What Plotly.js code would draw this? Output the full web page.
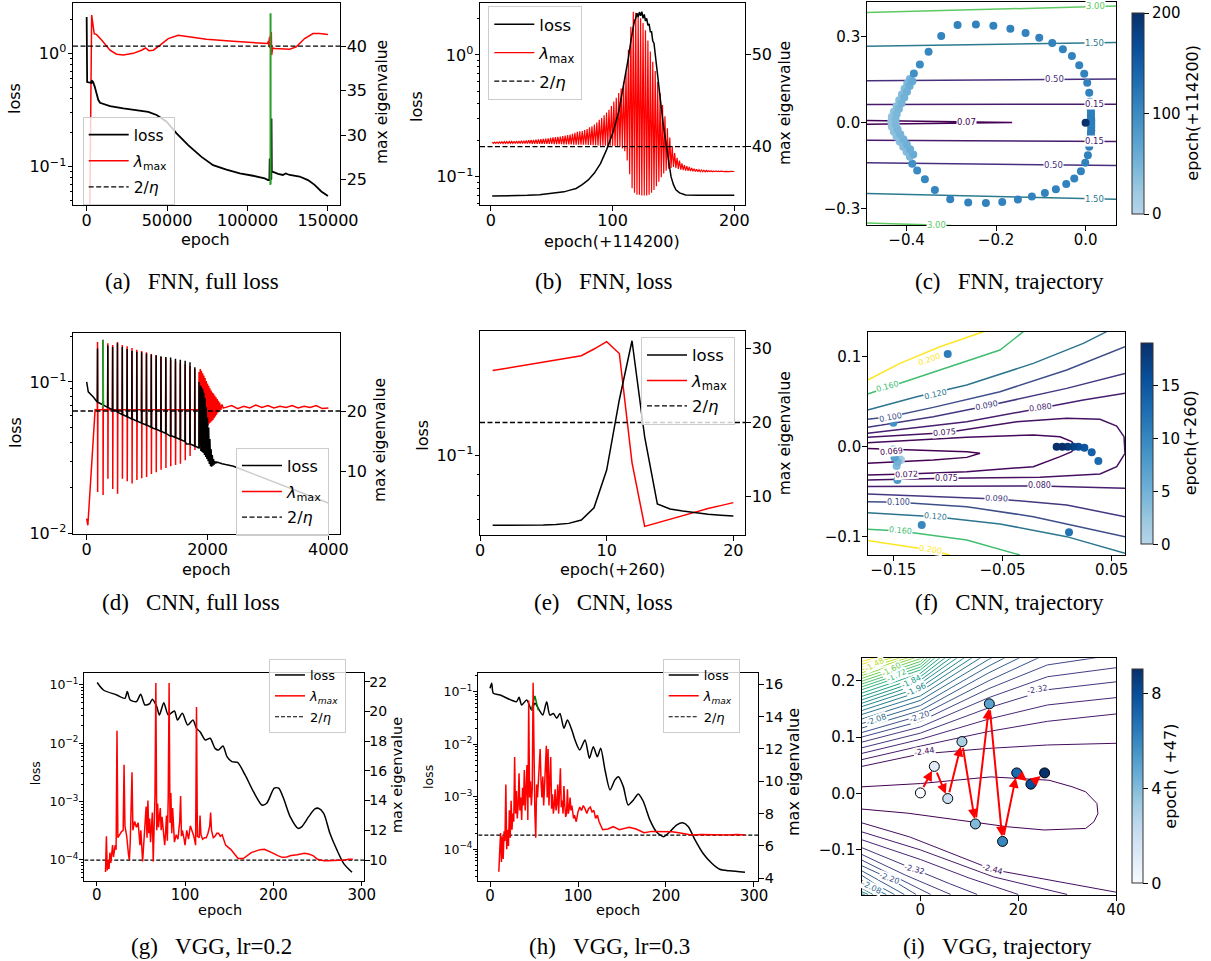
<!DOCTYPE html>
<html><head><meta charset="utf-8">
<script src="https://cdn.plot.ly/plotly-3.0.1.min.js"></script>
<style>body{margin:0;background:#fff}#chart{width:1211px;height:961px}</style>
</head><body><div id="chart"></div>
<script>
// ================= DATA =================
// (a) FNN, full loss
const a_epoch = [0,300,1500,3000,3100,4000,5000,6200,7200,8300,11000,14500,22800,30000,35000,38300,43500,49700,55900,63100,71400,78600,86900,95200,103400,110700,112800,113600,113800,114000,114800,114900,115100,115900,119000,122000,123700,126200,132400,137600,141700,145900,150000];
const a_loss = [2.1,0.56,0.555,0.55,0.58,0.56,0.51,0.45,0.39,0.367,0.355,0.343,0.327,0.317,0.31,0.305,0.286,0.25,0.197,0.155,0.122,0.103,0.094,0.0872,0.0831,0.0788,0.0762,0.076,0.118,0.076,0.078,0.267,0.09,0.09,0.0862,0.0844,0.087,0.0844,0.0818,0.076,0.069,0.0603,0.055];
const a_lam_epoch = [1500,2000,3100,4700,6200,9300,14500,18600,22800,29000,34100,36600,38700,41400,45500,50700,56900,62100,74500,91000,107600,111700,112500,113000,113300,113600,113900,114200,114500,114800,115000,115200,115400,115700,116900,126200,130300,135500,140700,144800,150000];
const a_lam = [22.0,22.5,43.5,41.4,41.3,40.7,39.55,39.1,39.0,39.2,39.55,39.8,39.5,39.55,40.1,40.86,41.24,41.12,40.79,40.56,40.41,40.37,40.3,40.6,40.1,41.0,39.8,41.2,39.2,41.6,39.0,41.0,39.5,39.8,39.74,39.66,39.93,40.86,41.42,41.42,41.31];
const a_offset = 114200;
const a_eta = 40;

// (b) FNN, loss (epoch + 114200)
const b_epoch = [1,10,20,30,40,50,60,65,70,75,80,85,90,95,100,105,110,113,115,116,117,118,119,120,121,122,123,124,125,126,127,128,129,130,131,132,133,134,135,136,138,140,142,144,146,148,150,152,155,160,170,180,200];
const b_loss = [0.0693,0.0694,0.0697,0.0702,0.071,0.0728,0.075,0.0775,0.080,0.086,0.094,0.107,0.128,0.166,0.227,0.34,0.62,0.95,1.3,1.55,1.7,1.9,2.0,2.2,2.05,2.25,2.1,2.27,2.0,2.15,1.9,2.0,1.75,1.8,1.55,1.55,1.3,1.25,1.03,0.9,0.6,0.37,0.25,0.18,0.13,0.1,0.086,0.078,0.0735,0.0708,0.0703,0.0702,0.0702];
const b_lam = [
40.5,40.35,40.5,40.35,40.5,40.36,40.52,40.36,40.53,40.35,
40.54,40.35,40.55,40.35,40.56,40.35,40.57,40.35,40.58,40.35,
40.6,40.35,40.62,40.34,40.63,40.34,40.65,40.34,40.67,40.33,
40.7,40.33,40.72,40.32,40.74,40.32,40.76,40.31,40.78,40.3,
40.8,40.3,40.83,40.3,40.86,40.3,40.9,40.29,40.95,40.29,
41.0,40.28,41.03,40.28,41.07,40.27,41.1,40.26,41.15,40.25,
41.2,40.25,41.25,40.24,41.3,40.23,41.4,40.22,41.5,40.2,
41.6,40.2,41.65,40.2,41.7,40.2,41.8,40.2,41.9,40.18,
42.1,40.17,42.2,40.16,42.4,40.15,42.6,40.13,42.9,40.1,
43.1,40.1,43.4,40.1,43.7,40.1,44.0,40.1,44.4,40.1,
44.9,40.05,45.3,40.0,45.8,39.95,46.3,39.8,47.0,39.5,
48.0,38.5,50.5,37.0,53.0,35.5,54.6,35.0,54.5,34.8,
54.2,34.8,53.9,34.7,53.4,34.7,52.6,34.7,51.5,34.8,
50.3,35.0,49.2,35.3,48.2,35.7,47.0,36.2,45.8,36.7,
44.5,37.1,43.3,37.4,42.0,37.6,41.0,37.7,40.0,37.8,
39.3,37.7,38.8,37.6,38.5,37.5,38.2,37.45,38.0,37.4,
37.9,37.38,37.8,37.35,37.7,37.33,37.6,37.3,37.55,37.28,
37.5,37.28,37.47,37.28,37.45,37.28,37.42,37.28,37.4,37.28,
37.38,37.29,37.37,37.29,37.36,37.29,37.35,37.29,37.34,37.3,
37.33,37.3,37.33,37.3,37.32,37.3,37.32,37.31,37.32,37.31];
const b_eta = 40;

// (c) FNN trajectory
const c_px = [-0.286,-0.245,-0.206,-0.168,-0.134,-0.1035,-0.0745,-0.0507,-0.0305,-0.0142,-0.003,0.0037,0.0082,0.0097,
 0.011,0.0115,0.012,0.012,0.012,0.0125,0.0127,0.0127,0.0127,0.0127,0.0127,0.012,0.012,0.0115,0.011,
 0.0082,0.0052,-0.0007,-0.0104,-0.0253,-0.0432,-0.0663,-0.0909,-0.12,-0.1512,-0.1862,-0.2227,-0.2622,-0.3024,-0.3367,-0.359,-0.3762,-0.3873,
 -0.3925,-0.4,-0.4074,-0.4149,-0.4223,-0.4283,-0.4328,-0.4343,-0.4328,-0.4283,-0.4223,-0.4164,-0.4104,-0.4045,-0.3985,-0.3925,
 -0.385,-0.392,-0.3995,-0.407,-0.414,-0.42,-0.424,-0.4245,-0.422,-0.417,-0.411,-0.405,-0.399,-0.393,-0.387,
 -0.3836,-0.3702,-0.3508,-0.3225, 0.0];
const c_py = [0.341,0.343,0.338,0.328,0.313,0.2965,0.278,0.256,0.2326,0.201,0.171,0.1395,0.1047,0.0733,
 0.056,0.047,0.038,0.03,0.021,0.015,0.0093,0.0,-0.008,-0.017,-0.0256,-0.034,-0.043,-0.052,-0.06,
 -0.0837,-0.1128,-0.1395,-0.1686,-0.194,-0.2128,-0.2314,-0.2442,-0.257,-0.2674,-0.2756,-0.279,-0.278,-0.2663,-0.2337,-0.1965,-0.1663,-0.143,
 -0.1186,-0.101,-0.0837,-0.0663,-0.0488,-0.0314,-0.014,0.0035,0.0209,0.0384,0.058,0.079,0.0988,0.1186,0.137,0.1523,
 -0.11,-0.092,-0.075,-0.057,-0.04,-0.022,-0.005,0.012,0.03,0.048,0.068,0.088,0.108,0.128,0.145,
 0.172,0.2035,0.2477,0.3023, 0.0];
const c_pc = [110,110,110,110,110,110,110,110,110,110,110,110,110,112,
 115,115,115,115,115,115,115,115,115,115,115,115,115,115,115,
 110,110,110,110,110,110,110,110,110,110,110,110,110,110,108,105,100,95,
 45,42,40,38,36,34,32,30,32,34,36,38,40,42,45,50,
 60,58,55,52,50,48,46,45,46,48,50,52,55,58,62,
 95,100,105,108, 200];
const c_cont_level = [3.0,1.5,0.5,0.15,0.07,0.15,0.5,1.5,3.0];
const c_cont_x = [[-0.489,0.068],[-0.489,0.068],[-0.489,0.068],[-0.489,0.068],[-0.489,-0.164,-0.489],[-0.489,0.068],[-0.489,0.068],[-0.489,0.068],[-0.489,-0.30]];
const c_cont_y = [[0.384,0.407],[0.267,0.280],[0.1465,0.153],[0.064,0.065],[0.008,0.0015,-0.005],[-0.0605,-0.065],[-0.1395,-0.149],[-0.2465,-0.266],[-0.349,-0.358]];
const c_lab_text = ['3.00','1.50','0.50','0.15','0.07','0.15','0.50','1.50','3.00'];
const c_lab_level = [3.0,1.5,0.5,0.15,0.07,0.15,0.5,1.5,3.0];
const c_lab_x = [0.022,0.019,-0.0685,0.021,-0.266,0.021,-0.072,0.021,-0.333];
const c_lab_y = [0.406,0.279,0.152,0.065,0.003,-0.064,-0.147,-0.264,-0.355];

// (d) CNN, full loss
const d_loss_ep  = [0,27,110,250,500,830,1100,1380,1650,2300,2430,2800,3200,3600,4000];
const d_loss_val = [0.1,0.086,0.0796,0.0713,0.064,0.056,0.0495,0.0440,0.039,0.0285,0.0278,0.0244,0.0211,0.0184,0.0159];
const d_spk_ep   = [180,270,350,430,510,590,670,750,830,910,990,1070,1150,1230,1310,1390,1470,1550,1630,1710,1790,1860];
const d_spk_base = [0.0735,0.0705,0.068,0.0655,0.063,0.061,0.059,0.057,0.0553,0.0535,0.052,0.0503,0.0488,0.0473,0.0458,0.0444,0.043,0.0417,0.0404,0.039,0.0378,0.0367];
const d_spk_top  = [0.166,0.19,0.174,0.17,0.18,0.17,0.165,0.16,0.158,0.157,0.154,0.152,0.15,0.148,0.146,0.145,0.142,0.14,0.138,0.135,0.125,0.1];
const d_red_hi   = [31.5,31.8,31.3,31.0,31.5,31.0,30.8,30.5,30.2,30.0,29.8,29.5,29.3,29.0,28.8,28.5,28.3,28.0,27.8,27.5,27.0,26.5];
const d_red_lo   = [6.5,6.0,8.7,7.0,6.2,8.7,8.3,7.9,8.5,8.8,9.0,9.5,9.8,10.2,10.5,10.8,11.0,11.2,11.8,12.5,13.5,15.0];
const d_red_mid  = [20.2,20.2,20.2,20.2,20.2,20.2,20.2,20.2,20.2,20.2,20.2,20.2,20.2,20.2,20.2,20.2,20.2,20.2,20.2,20.2,20.2,20.2];
const d_lam_pre_ep = [0,20,140];
const d_lam_pre    = [2.07,0.95,20.2];
const d_osc_ep   = [1880,1890,1900,1910,1920,1930,1940,1950,1960,1970,1980,1990,2000,2010,2020,2030,2040,2050,2060,2070,2080,2090,2100,2110,2120,2130,2140,2150,2160,2170,2180,2190,2200,2220,2240,2260];
const d_osc_loss = [0.095,0.035,0.093,0.0345,0.09,0.034,0.085,0.033,0.078,0.032,0.068,0.031,0.058,0.030,0.05,0.0288,0.042,0.0278,0.036,0.0276,0.033,0.028,0.031,0.0285,0.030,0.029,0.0298,0.0292,0.0296,0.0293,0.0294,0.0293,0.0293,0.0291,0.0289,0.0287];
const d_osc_lam  = [27.0,15.5,26.7,16.0,26.3,16.4,25.9,16.8,25.5,17.1,25.0,17.4,24.6,17.6,24.2,17.9,23.8,18.1,23.4,18.3,23.1,18.5,22.9,18.8,22.6,19.1,22.3,19.4,22.0,19.7,21.7,20.0,21.4,20.2,21.1,20.5];
const d_tail_ep  = [2300,2400,2500,2600,2700,2800,2900,3000,3100,3200,3300,3400,3500,3600,3700,3800,3900,4000];
const d_tail_lam = [20.6,20.9,20.4,20.8,20.5,21.0,20.6,20.9,20.5,20.8,20.6,20.9,20.5,20.8,20.6,20.9,20.4,20.5];
const d_offset = 260;
const d_eta = 20;

// (e) CNN, loss (epoch + 260)
const e_epoch = [1,2,3,4,5,6,7,8,9,10,11,12,13,14,15,16,17,18,19,20];
const e_loss  = [0.0677,0.0677,0.0677,0.0677,0.0678,0.068,0.0684,0.0697,0.0746,0.092,0.136,0.1888,0.1107,0.0762,0.0741,0.0733,0.0726,0.072,0.0716,0.0713];
const e_lam   = [27.0,27.3,27.6,27.9,28.2,28.5,28.8,29.0,29.9,30.9,29.3,14.6,6.0,6.5,7.0,7.5,8.0,8.4,8.8,9.2];
const e_eta = 20;

// (f) CNN trajectory
const f_px = [-0.1454,-0.143,-0.1445,-0.1479,-0.147,-0.146,-0.15,-0.149,-0.1463,-0.15,-0.124,-0.1002,0.0109,0.0378,0.0317,0.025,0.0195,0.0149,0.0097,0.0048,-0.0004];
const f_py = [-0.0141,-0.0148,-0.013,-0.0111,-0.0215,-0.017,-0.003,-0.012,-0.037,0.0267,-0.087,0.103,-0.0952,-0.0159,-0.0063,-0.0011,0,0,0,0,0];
const f_pc = [0,1,2,3,4,5,6,7,8,9,10,11,12,13,14,15,16,17,18,19,19];
const f_cont_level = [0.200,0.160,0.120,0.100,0.090,0.080,0.075,0.072,0.069,0.080,0.090,0.100,0.120,0.160,0.200];
const f_cont_x = [
 [-0.1735,-0.1439,-0.1073,-0.0676],
 [-0.1735,-0.1439,-0.0981,-0.0523,-0.0309],
 [-0.1735,-0.1286,-0.0828,-0.0218,0.024,0.0454],
 [-0.1735,-0.1531,-0.1134,-0.0523,0.0088,0.0622],
 [-0.1735,-0.1134,-0.0645,0.0088,0.0622],
 [-0.1735,-0.0828,-0.0157,0.024,0.0622],
 [-0.1735,-0.1027,-0.037,0.0088,0.0393,0.0546,0.0613,0.0622,0.0622,0.0546,0.0393,-0.0157,-0.1011,-0.1735],
 [-0.1735,-0.0828,-0.0218,0.0027,0.0134,0.0164,0.0134,0.0027,-0.0218,-0.0828,-0.1378,-0.1735],
 [-0.1735,-0.1134,-0.0828,-0.0706,-0.0828,-0.1134,-0.1735],
 [-0.1735,-0.0157,0.0622],
 [-0.1735,-0.0553,0.0088,0.0622],
 [-0.1735,-0.1454,-0.0828,-0.0218,0.0622],
 [-0.1735,-0.1118,-0.0523,0.0088,0.0622],
 [-0.1735,-0.1439,-0.0828,-0.034],
 [-0.1735,-0.1164,-0.0981]];
const f_cont_y = [
 [0.0741,0.0926,0.1111,0.1278],
 [0.0585,0.0704,0.0889,0.1074,0.1278],
 [0.0407,0.0556,0.0685,0.0926,0.1148,0.1278],
 [0.0304,0.0333,0.0437,0.0611,0.0852,0.1111],
 [0.0215,0.0333,0.0452,0.0648,0.0815],
 [0.0148,0.0278,0.0426,0.0519,0.0593],
 [0.0104,0.0156,0.0278,0.0315,0.0304,0.023,0.0111,-0.0019,-0.0074,-0.0222,-0.0304,-0.0341,-0.0352,-0.037],
 [0.0044,0.0104,0.013,0.0111,0.0056,0.0,-0.0056,-0.0111,-0.0222,-0.0278,-0.0304,-0.0315],
 [-0.0019,-0.0044,-0.0056,-0.0074,-0.0119,-0.0148,-0.0185],
 [-0.0444,-0.0437,-0.0463],
 [-0.0526,-0.0581,-0.0648,-0.0778],
 [-0.0611,-0.0619,-0.0667,-0.0778,-0.1],
 [-0.0733,-0.0778,-0.0859,-0.1,-0.1185],
 [-0.0919,-0.0937,-0.1037,-0.1204],
 [-0.1044,-0.1148,-0.1204]];
const f_lab_text  = ['0.200','0.160','0.120','0.100','0.090','0.080','0.075','0.069','0.072','0.075','0.080','0.090','0.100','0.120','0.160','0.200'];
const f_lab_level = [0.2,0.16,0.12,0.1,0.09,0.08,0.075,0.069,0.072,0.075,0.08,0.09,0.1,0.12,0.16,0.2];
const f_lab_x = [-0.117,-0.1552,-0.1118,-0.153,-0.0645,-0.015,-0.1027,-0.1515,-0.1378,-0.1011,-0.0157,-0.0553,-0.1454,-0.1118,-0.1439,-0.1164];
const f_lab_y = [0.097,0.0667,0.0585,0.0326,0.0463,0.0433,0.0156,-0.0056,-0.0304,-0.0352,-0.0437,-0.0574,-0.0619,-0.0778,-0.0937,-0.1148];
const f_lab_ang = [-20,-15,-13,-10,-12,-8,-5,-5,-3,0,0,3,0,5,5,8];

// (g) VGG lr=0.2
const g_epoch = [0.6,7.6,22.7,32,34.6,38,45,49.8,54.7,60,63,68,71,76,81,88,91.5,97,103,109,113,117,123,128.5,134,138,143,147.5,153,159.5,168,177.5,187,192.5,201,206,211.5,219,228,232,240,247,251,257,264,272,279.5,289];
const g_loss  = [0.11,0.082,0.0674,0.059,0.0769,0.0553,0.0518,0.069,0.0454,0.048,0.057,0.0425,0.0306,0.0497,0.0306,0.0358,0.025,0.0327,0.0206,0.025,0.018,0.0158,0.0114,0.0122,0.0082,0.0077,0.009,0.0059,0.00485,0.0047,0.00287,0.00148,0.000877,0.00094,0.0017,0.0017,0.00114,0.000553,0.000349,0.00037,0.000553,0.00075,0.00077,0.00063,0.000288,0.000148,0.0000877,0.0000616];
const g_lam_epoch = [10,11,12,13,14,15,16,18,19,20,21,22,23,24,26,28,30,31,32,34,36,37,38,40,41,43,45,47,49,50,52,54,56,57,58,59,60,61,62,63,64,65,66,67,68,69,70,72,73,74,76,77,78,79,80,81,82,83,84,85,86,87,88,90,92,94,95,96,97,99,100,102,104,106,108,110,112,113,114,116,117,118,120,122,124,126,128,129,130,132,134,136,138,140,142,144,146,148,152,156,160,166,170,175,180,185,190,195,200,205,210,215,220,227,235,240,245,250,257,262,268,275,281,285,290];
const g_lam = [9.2,11.6,9.3,10.0,9.4,10.5,9.8,11.0,10.2,10.6,11.0,10.7,18.7,11.5,11.7,11.9,12.0,16.4,12.3,11.6,10.4,10.0,11.2,15.9,12.0,12.6,12.2,12.5,11.0,12.0,9.9,12.0,13.6,11.5,14.0,11.8,12.8,11.2,12.0,13.2,9.9,12.5,14.3,21.9,12.0,13.8,12.2,13.5,12.0,12.9,11.5,11.0,11.8,13.0,11.3,14.2,21.9,12.5,14.5,11.8,13.5,12.2,11.2,11.7,11.4,12.6,14.3,11.6,12.0,11.4,11.0,12.0,11.4,12.3,12.0,11.6,11.0,20.3,11.6,11.5,13.0,11.7,11.4,11.5,11.5,11.8,12.3,13.2,12.0,11.5,11.6,11.8,11.8,11.6,11.7,11.3,11.0,10.9,10.7,10.4,10.1,10.1,10.3,10.5,10.6,10.7,10.72,10.6,10.45,10.3,10.18,10.2,10.3,10.35,10.45,10.4,10.3,10.05,9.95,9.95,9.95,9.97,10.0,10.05,10.05];
const g_eta = 10;

// (h) VGG lr=0.3
const h_epoch = [0,1.9,3.8,11.4,30,33,36,41.7,47.3,51,57,60,64.4,68,72,75.8,79.5,84,88,93,96.6,102,108,113,117.4,122,125.8,130.7,136.4,142,146,151.5,157,163,168.5,174,181.8,189,197,202.6,212,219,225.4,233,242,252,261,272.7,289.8];
const h_loss  = [0.116,0.145,0.093,0.0865,0.0645,0.0782,0.0558,0.0695,0.0449,0.06,0.0417,0.036,0.0645,0.036,0.0384,0.0312,0.0384,0.0201,0.0289,0.0186,0.012,0.00777,0.012,0.0054,0.009,0.0058,0.0084,0.00323,0.00135,0.0021,0.0024,0.00156,0.0007,0.00087,0.00113,0.00083,0.00036,0.000217,0.000174,0.000202,0.00029,0.00032,0.00027,0.000151,0.0000843,0.0000543,0.0000418,0.0000389,0.0000366];
const h_green_epoch = [47,49,51,53,55];
const h_green_loss  = [0.045,0.062,0.083,0.06,0.044];
const h_lam_first_epoch = 10;
const h_lam_a = [4.4,6.1,6.8,5.0,6.6,5.2,6.9,6.3,9.8,5.8,
 7.0,6.0,8.2,6.5,8.8,7.0,8.0,7.5,11.5,8.0,
 9.4,7.7,8.5,10.5,8.2,9.0,7.6,9.6,8.5,10.7,
 8.2,9.5,11.0,7.6,15.0,9.0,10.0,8.5,9.5,16.1,
 9.5,8.0,6.5,9.8,9.0,10.0,11.0,12.0,10.0,9.0,
 10.3,8.5,9.7,11.5,12.2,9.0,12.0,8.5,10.5,11.5,
 8.3,9.2,8.0,8.5,9.5,8.2,8.6,9.8,8.0,9.2,
 10.8,8.4,8.8,8.0,9.7,8.5,7.8,8.0,9.5,8.0,
 8.3,9.0,8.2,8.5,8.0,7.7];
const h_lam_b_epoch = [96,98,100,102,104,106,108,110,112,114,116,118,120,122,124,126,128,134,140,147,153,158,166,175,184,192,200,207,218,229,240,250,260,270,280,290];
const h_lam_b = [7.9,7.5,8.1,8.4,8.2,8.5,8.3,8.0,8.3,8.4,8.1,8.2,7.7,7.9,7.5,7.2,7.0,7.05,7.19,7.0,7.1,7.15,7.05,6.82,6.9,6.88,6.9,6.88,6.78,6.68,6.7,6.68,6.7,6.68,6.7,6.68];
const h_eta = 6.67;

// (i) VGG trajectory
const i_px = [0,2.85,5.6,8.5,11.25,14.1,16.8,19.7,22.6,25.4];
const i_py = [0.001,0.048,-0.009,0.092,-0.054,0.159,-0.085,0.0365,0.0165,0.0365];
const i_pc = [0,1,2,3,4,5,6,7,8,9];
const i_closed_x = [-12,0,14.4,26.3,31,33.8,36.1,36.3,35.5,33.8,25.3,17.8,7.7,-2.5,-12];
const i_closed_y = [0.0118,0.0176,0.0294,0.0235,0.012,0.003,-0.0177,-0.0355,-0.05,-0.062,-0.0647,-0.059,-0.047,-0.035,-0.0276];
const i_closed_level = -2.48;
const i_up_level = [-2.44,-2.40,-2.36,-2.32,-2.28,-2.24,-2.20,-2.16,-2.12,-2.08,-2.04,-2.00,-1.96,-1.92,-1.88,-1.84,-1.80,-1.76,-1.72,-1.68,-1.64,-1.60,-1.56,-1.52,-1.48,-1.44,-1.40,-1.36];
const i_up_x = [-12,0,14,26,40];
const i_up_y = [
 [0.048,0.070,0.080,0.086,0.089],
 [0.060,0.084,0.110,0.128,0.141],
 [0.071,0.096,0.132,0.157,0.170],
 [0.081,0.107,0.152,0.184,0.198],
 [0.091,0.118,0.170,0.207,0.223],
 [0.100,0.128,0.186,0.228,0.246],
 [0.108,0.138,0.200,0.248,0.27],
 [0.116,0.147,0.214,0.265,0.29],
 [0.124,0.156,0.226,0.28,0.31],
 [0.132,0.165,0.238,0.29,0.32],
 [0.140,0.173,0.25,0.30,0.33],
 [0.147,0.181,0.26,0.31,0.34],
 [0.154,0.188,0.27,0.32,0.35],
 [0.160,0.195,0.28,0.33,0.36],
 [0.166,0.201,0.29,0.34,0.37],
 [0.172,0.207,0.30,0.35,0.38],
 [0.178,0.213,0.31,0.36,0.39],
 [0.184,0.219,0.32,0.37,0.40],
 [0.189,0.224,0.33,0.38,0.41],
 [0.194,0.229,0.34,0.39,0.42],
 [0.199,0.234,0.35,0.40,0.43],
 [0.204,0.239,0.36,0.41,0.44],
 [0.209,0.244,0.37,0.42,0.45],
 [0.214,0.248,0.38,0.43,0.46],
 [0.219,0.252,0.39,0.44,0.47],
 [0.224,0.256,0.40,0.45,0.48],
 [0.229,0.260,0.41,0.46,0.49],
 [0.234,0.264,0.42,0.47,0.50]];
const i_low_level = [-2.44,-2.40,-2.36,-2.32,-2.28,-2.24,-2.20,-2.16,-2.12,-2.08,-2.04,-2.00,-1.96,-1.92];
const i_low_x = [[-12,-2.2,14.8,40],[-12,0,15,30],[-12,0,10,20],[-12,-1.2,6,11.6],[-12,-3,6.2],[-12,-5,2.1],[-12,-6.25,-0.9],[-12,-7.5,-3.3],[-12,-9,-5.3],[-12,-9.97,-7.0],[-12,-8.4],[-12,-9.7],[-12,-10.7],[-12,-11.4]];
const i_low_y = [[-0.052,-0.077,-0.135,-0.175],[-0.068,-0.100,-0.148,-0.179],[-0.082,-0.117,-0.150,-0.179],[-0.096,-0.135,-0.160,-0.179],[-0.108,-0.145,-0.179],[-0.118,-0.148,-0.179],[-0.128,-0.151,-0.179],[-0.137,-0.158,-0.179],[-0.145,-0.162,-0.179],[-0.153,-0.167,-0.179],[-0.161,-0.179],[-0.168,-0.179],[-0.174,-0.179],[-0.178,-0.179]];
const i_lab_text  = ['-2.32','-2.20','-2.08','-1.96','-1.84','-1.72','-1.60','-1.48','-2.44','-2.44','-2.32','-2.20','-2.08'];
const i_lab_level = [-2.32,-2.20,-2.08,-1.96,-1.84,-1.72,-1.60,-1.48,-2.44,-2.44,-2.32,-2.20,-2.08];
const i_lab_x = [23.9,-0.14,-8.95,-0.8,-1.8,-4.9,-5.9,-9.3,0.87,14.8,-1.16,-6.25,-9.97];
const i_lab_y = [0.184,0.137,0.131,0.184,0.198,0.21,0.22,0.229,0.0738,-0.135,-0.135,-0.151,-0.167];
const i_lab_ang = [-10,-20,-20,-25,-25,-25,-28,-28,-8,15,15,20,25];

// ================= HELPERS =================
const W = 1211, H = 961;
const FONT = 'DejaVu Sans';
const SERIF = 'Liberation Serif';
const hx = x => x / W;
const vy = y => 1 - y / H;
const VIR = ['#440154','#482475','#414487','#355f8d','#2a788e','#21918c','#22a884','#44bf70','#7ad151','#bddf26','#fde725'];
function hex2(c){return [parseInt(c.slice(1,3),16),parseInt(c.slice(3,5),16),parseInt(c.slice(5,7),16)];}
function viridis(t){t=Math.max(0,Math.min(1,t));const s=t*10;const i=Math.min(9,Math.floor(s));const f=s-i;const a=hex2(VIR[i]),b=hex2(VIR[i+1]);return 'rgb('+a.map((v,k)=>Math.round(v+(b[k]-v)*f)).join(',')+')';}
const BLUES = [[0,'#f7fbff'],[0.125,'#deebf7'],[0.25,'#c6dbef'],[0.375,'#9ecae1'],[0.5,'#6baed6'],[0.625,'#4292c6'],[0.75,'#2171b5'],[0.875,'#08519c'],[1,'#08306b']];
const BLUES_T = [[0,'#b6d4e9'],[0.107,'#9ecae1'],[0.286,'#6baed6'],[0.464,'#4292c6'],[0.643,'#2171b5'],[0.821,'#08519c'],[1,'#08306b']];
function minorLog(lo, hi){const v=[];for(let e=-6;e<=1;e++){for(let m=2;m<=9;m++){const x=m*Math.pow(10,e);if(x>lo&&x<hi)v.push(x);}}return v;}
const sup = s => '10<sup>' + s + '</sup>';

const traces = [];
const ann = [];
function T(text, x, y, size, opt){
  opt = opt || {};
  ann.push({text:text, x:hx(x), y:vy(y), xref:'paper', yref:'paper', showarrow:false,
    font:{family:opt.family||FONT, size:size, color:'#000'}, xanchor:'center', yanchor:'middle',
    textangle:opt.angle||0});
}
const LAMN = '<i>λ</i><sub>max</sub>';
const LAMI = '<i>λ<sub>max</sub></i>';
const ETAN = '2/<i>η</i>';

// ================= AXES =================
const base = {showline:true, linecolor:'#000', linewidth:1, ticks:'outside', ticklen:4.5, tickwidth:1, tickcolor:'#000',
  showgrid:false, zeroline:false, fixedrange:true, tickfont:{family:FONT, size:16, color:'#000'}};
function X(dom, range, anchor, vals, text, size, extra){
  return Object.assign({}, base, {domain:[hx(dom[0]),hx(dom[1])], range:range, anchor:anchor, mirror:true, ticklabelstandoff:-4,
    tickmode:'array', tickvals:vals, ticktext:text, tickfont:{family:FONT,size:size||16,color:'#000'}}, extra||{});
}
function Y(dom, range, anchor, vals, text, size, extra){
  return Object.assign({}, base, {domain:[vy(dom[1]),vy(dom[0])], range:range, anchor:anchor, mirror:true, ticklabelstandoff:-2,
    tickmode:'array', tickvals:vals, ticktext:text, tickfont:{family:FONT,size:size||16,color:'#000'}}, extra||{});
}
function LOG(range, vals, text, size, extra){
  return Object.assign({}, base, {type:'log', range:range, tickmode:'array', tickvals:vals, ticktext:text, ticklabelstandoff:-2,
    tickfont:{family:FONT,size:size||16,color:'#000'},
    minor:{tickmode:'array', tickvals:minorLog(Math.pow(10,range[0]),Math.pow(10,range[1])), ticks:'outside', ticklen:2.5, tickcolor:'#000', tickwidth:1}}, extra||{});
}

const R = {
  a:{x:[-8500,157500]}, b:{x:[-9,208.8]}, d:{x:[-226,4193]}, e:{x:[0,20.92]}, g:{x:[-14,302.6]}, h:{x:[-13.3,304.9]}
};

const layout = {
  width:W, height:H, margin:{l:0,r:0,t:0,b:0}, paper_bgcolor:'#fff', plot_bgcolor:'rgba(0,0,0,0)', showlegend:true,
  font:{family:FONT, color:'#000'},
  xaxis: X([73,340], R.a.x, 'y', [0,50000,100000,150000], ['0','50000','100000','150000']),
  yaxis: Y([3.3,205], [22.13,44.83], 'x', [25,30,35,40], ['25','30','35','40'], 16, {side:'right'}),
  yaxis10: LOG([-1.339,0.444], [0.1,1], [sup('−1'),sup('0')], 16, {overlaying:'y', side:'left', anchor:'x', showline:false}),
  xaxis2: X([480,745], R.b.x, 'y2', [0,100,200], ['0','100','200']),
  yaxis2: Y([3,205], [33.68,55.56], 'x2', [40,50], ['40','50'], 16, {side:'right'}),
  yaxis11: LOG([-1.233,0.427], [0.1,1], [sup('−1'),sup('0')], 16, {overlaying:'y2', side:'left', anchor:'x2', showline:false}),
  xaxis3: X([866.7,1116], [-0.489,0.068], 'y3', [-0.4,-0.2,0], ['−0.4','−0.2','0.0'], 15),
  yaxis3: Y([2,225], [-0.356,0.421], 'x3', [-0.3,0,0.3], ['−0.3','0.0','0.3'], 15),
  xaxis4: X([73,340], R.d.x, 'y4', [0,2000,4000], ['0','2000','4000']),
  yaxis4: Y([333.3,534.3], [-0.55,32.95], 'x4', [10,20], ['10','20'], 16, {side:'right'}),
  yaxis12: LOG([-2.005,-0.679], [0.01,0.1], [sup('−2'),sup('−1')], 16, {overlaying:'y4', side:'left', anchor:'x4', showline:false}),
  xaxis5: X([480,745], R.e.x, 'y5', [0,10,20], ['0','10','20']),
  yaxis5: Y([331,535], [4.84,32.33], 'x5', [10,20,30], ['10','20','30'], 16, {side:'right'}),
  yaxis13: LOG([-1.193,-0.7005], [0.1], [sup('−1')], 16, {overlaying:'y5', side:'left', anchor:'x5', showline:false}),
  xaxis6: X([867.7,1125], [-0.1735,0.0622], 'y6', [-0.15,-0.05,0.05], ['−0.15','−0.05','0.05'], 15),
  yaxis6: Y([331.7,555], [-0.1204,0.1278], 'x6', [-0.1,0,0.1], ['−0.1','0.0','0.1'], 15),
  xaxis7: X([84.3,364], R.g.x, 'y7', [0,100,200,300], ['0','100','200','300'], 15),
  yaxis7: Object.assign(LOG([-4.355,-0.8], [1e-4,1e-3,1e-2,1e-1], [sup('−4'),sup('−3'),sup('−2'),sup('−1')], 12.5),
           {domain:[vy(880.7),vy(673.3)], anchor:'x7', mirror:true, side:'left'}),
  yaxis14: Y([673.3,880.7], [8.61,22.56], 'x7', [10,12,14,16,18,20,22], ['10','12','14','16','18','20','22'], 14, {overlaying:'y7', side:'right', mirror:false, ticklabelstandoff:-3}),
  xaxis8: X([478.3,758.3], R.h.x, 'y8', [0,100,200,300], ['0','100','200','300'], 15),
  yaxis8: Object.assign(LOG([-4.603,-0.65], [1e-4,1e-3,1e-2,1e-1], [sup('−4'),sup('−3'),sup('−2'),sup('−1')], 12.5),
           {domain:[vy(881),vy(673.3)], anchor:'x8', mirror:true, side:'left'}),
  yaxis15: Y([673.3,881], [3.83,16.68], 'x8', [4,6,8,10,12,14,16], ['4','6','8','10','12','14','16'], 14.5, {overlaying:'y8', side:'right', mirror:false}),
  xaxis9: X([861.7,1116], [-12,40], 'y9', [0,20,40], ['0','20','40'], 15),
  yaxis9: Y([658.3,895], [-0.18,0.2397], 'x9', [-0.1,0,0.1,0.2], ['−0.1','0.0','0.1','0.2'], 15),
};
['yaxis10','yaxis11','yaxis12','yaxis13','yaxis14','yaxis15'].forEach(k=>{ delete layout[k].domain; });

function legendCfg(x, y, size, gap, iw){
  return {x:hx(x), y:vy(y), xanchor:'left', yanchor:'top', bgcolor:'rgba(255,255,255,0.8)', bordercolor:'#cccccc', borderwidth:1,
    font:{family:FONT, size:size, color:'#000'}, tracegroupgap:gap, itemwidth:iw||40, traceorder:'grouped'};
}
layout.legend  = legendCfg(82.7,117,15.5,3);
layout.legend2 = legendCfg(488.3,6,16.5,4);
layout.legend3 = legendCfg(236,447.7,16,2);
layout.legend4 = legendCfg(641,336.7,16.5,1);
layout.legend5 = legendCfg(269,659,13,1,30);
layout.legend6 = legendCfg(662.7,659,13,1,30);

function line(x, y, xa, ya, color, width, extra){
  return Object.assign({type:'scatter', mode:'lines', x:x, y:y, xaxis:xa, yaxis:ya, line:{color:color, width:width}, hoverinfo:'skip', showlegend:false}, extra||{});
}
const leg = (name, lg, rank) => ({name:name, showlegend:true, legend:lg, legendrank:rank, legendgroup:lg+'_'+rank});

// ================= (a) =================
traces.push(line(a_lam_epoch, a_lam, 'x', 'y', '#ff0000', 1.5, leg(LAMN,'legend',2)));
traces.push(line(R.a.x, [a_eta,a_eta], 'x', 'y', '#000', 1.3, Object.assign(leg(ETAN,'legend',3), {line:{color:'#000',width:1.3,dash:'5px,2.5px'}})));
traces.push(line(a_epoch, a_loss, 'x', 'y10', '#000', 1.8, leg('loss','legend',1)));
traces.push(line(b_epoch.map(e=>a_offset+e), b_loss, 'x', 'y10', '#2ca02c', 2));

// ================= (b) =================
const b_lam_epoch = b_lam.map((_,i)=>i+1);
traces.push(line(b_lam_epoch, b_lam, 'x2', 'y2', '#ff0000', 1.2, leg(LAMN,'legend2',2)));
traces.push(line(R.b.x, [b_eta,b_eta], 'x2', 'y2', '#000', 1.3, Object.assign(leg(ETAN,'legend2',3), {line:{color:'#000',width:1.3,dash:'5px,2.5px'}})));
traces.push(line(b_epoch, b_loss, 'x2', 'y11', '#000', 1.5, leg('loss','legend2',1)));

// ================= (c) =================
const cColor = {3.0:'#5ec962', 1.5:'#2c7a8e', 0.5:'#472f7d', 0.15:'#481b6d', 0.07:'#440154'};
c_cont_x.forEach((xs,k)=>traces.push(line(xs, c_cont_y[k], 'x3', 'y3', cColor[c_cont_level[k]], 1.5)));
traces.push({type:'scatter', mode:'markers', x:c_px, y:c_py, xaxis:'x3', yaxis:'y3', hoverinfo:'skip', showlegend:false,
  marker:{size:8, color:c_pc, colorscale:BLUES_T, cmin:0, cmax:200, line:{width:0}, showscale:true,
    colorbar:{x:hx(1131.7), xanchor:'left', y:vy(13), yanchor:'top', len:(214-13)/H, lenmode:'fraction', thickness:11.6, thicknessmode:'pixels',
      xpad:0, ypad:0, outlinewidth:1, outlinecolor:'#333', tickmode:'array', tickvals:[0,100,200], ticktext:['0','100','200'], ticks:'outside', ticklen:5, tickcolor:'#000',
      tickfont:{family:FONT, size:15, color:'#000'}}}});
c_lab_text.forEach((t,k)=>ann.push({text:t, x:c_lab_x[k], y:c_lab_y[k], xref:'x3', yref:'y3', showarrow:false, bgcolor:'#fff', borderpad:0,
  font:{family:FONT, size:8.5, color:cColor[c_lab_level[k]]}}));

// ================= (d) =================
let dlx = d_loss_ep.slice(), dly = d_loss_val.slice();
d_spk_ep.forEach((e,i)=>{ dlx.push(e-3, e, e+3); dly.push(d_spk_base[i], d_spk_top[i], d_spk_base[i]); });
d_osc_ep.forEach((e,i)=>{ dlx.push(e); dly.push(d_osc_loss[i]); });
let ord = dlx.map((_,i)=>i).sort((p,q)=>dlx[p]-dlx[q]);
const d_lx = ord.map(i=>dlx[i]), d_ly = ord.map(i=>dly[i]);
let drx = d_lam_pre_ep.slice(), dry = d_lam_pre.slice();
d_spk_ep.forEach((e,i)=>{ drx.push(e-4, e, e+2, e+6); dry.push(d_red_mid[i], d_red_hi[i], d_red_lo[i], d_red_mid[i]); });
d_osc_ep.forEach((e,i)=>{ drx.push(e); dry.push(d_osc_lam[i]); });
d_tail_ep.forEach((e,i)=>{ drx.push(e); dry.push(d_tail_lam[i]); });
ord = drx.map((_,i)=>i).sort((p,q)=>drx[p]-drx[q]);
const d_rx = ord.map(i=>drx[i]), d_ry = ord.map(i=>dry[i]);
traces.push(line(d_rx, d_ry, 'x4', 'y4', '#ff0000', 1.5, leg(LAMN,'legend3',2)));
traces.push(line(R.d.x, [d_eta,d_eta], 'x4', 'y4', '#000', 1.3, Object.assign(leg(ETAN,'legend3',3), {line:{color:'#000',width:1.3,dash:'5px,2.5px'}})));
traces.push(line(d_lx, d_ly, 'x4', 'y12', '#000', 1.5, leg('loss','legend3',1)));
traces.push(line(e_epoch.map(e=>d_offset+e), e_loss, 'x4', 'y12', '#2ca02c', 1.8));

// ================= (e) =================
traces.push(line(e_epoch, e_lam, 'x5', 'y5', '#ff0000', 1.5, leg(LAMN,'legend4',2)));
traces.push(line(R.e.x, [e_eta,e_eta], 'x5', 'y5', '#000', 1.3, Object.assign(leg(ETAN,'legend4',3), {line:{color:'#000',width:1.3,dash:'5px,2.5px'}})));
traces.push(line(e_epoch, e_loss, 'x5', 'y13', '#000', 1.5, leg('loss','legend4',1)));

// ================= (f) =================
const fT = v => (v-0.069)/(0.2-0.069);
f_cont_x.forEach((xs,k)=>traces.push(line(xs, f_cont_y[k], 'x6', 'y6', viridis(fT(f_cont_level[k])), 1.5)));
traces.push({type:'scatter', mode:'markers', x:f_px, y:f_py, xaxis:'x6', yaxis:'y6', hoverinfo:'skip', showlegend:false,
  marker:{size:8, color:f_pc, colorscale:BLUES_T, cmin:0, cmax:19, line:{width:0}, showscale:true,
    colorbar:{x:hx(1140.7), xanchor:'left', y:vy(343.3), yanchor:'top', len:(544-343.3)/H, lenmode:'fraction', thickness:11.6, thicknessmode:'pixels',
      xpad:0, ypad:0, outlinewidth:1, outlinecolor:'#333', tickmode:'array', tickvals:[0,5,10,15], ticktext:['0','5','10','15'], ticks:'outside', ticklen:5, tickcolor:'#000',
      tickfont:{family:FONT, size:15, color:'#000'}}}});
f_lab_text.forEach((t,k)=>ann.push({text:t, x:f_lab_x[k], y:f_lab_y[k], xref:'x6', yref:'y6', showarrow:false, bgcolor:'#fff', borderpad:0,
  textangle:f_lab_ang[k], font:{family:FONT, size:8, color:viridis(fT(f_lab_level[k]))}}));

// ================= (g) =================
traces.push(line(g_epoch, g_loss, 'x7', 'y7', '#000', 1.5, Object.assign(leg('loss','legend5',1), {line:{color:'#000', width:1.5, shape:'spline', smoothing:0.7}})));
traces.push(line(R.g.x, [g_eta,g_eta], 'x7', 'y14', '#000', 1.2, Object.assign(leg(ETAN,'legend5',3), {line:{color:'#000',width:1.2,dash:'4px,2px'}})));
traces.push(line(g_lam_epoch, g_lam, 'x7', 'y14', '#ff0000', 1.5, leg(LAMI,'legend5',2)));

// ================= (h) =================
traces.push(line(h_epoch, h_loss, 'x8', 'y8', '#000', 1.5, Object.assign(leg('loss','legend6',1), {line:{color:'#000', width:1.5, shape:'spline', smoothing:0.7}})));
traces.push(line(h_green_epoch, h_green_loss, 'x8', 'y8', '#008000', 1.5));
traces.push(line(R.h.x, [h_eta,h_eta], 'x8', 'y15', '#000', 1.2, Object.assign(leg(ETAN,'legend6',3), {line:{color:'#000',width:1.2,dash:'4px,2px'}})));
const h_lam_epoch = h_lam_a.map((_,i)=>h_lam_first_epoch+i).concat(h_lam_b_epoch);
const h_lam = h_lam_a.concat(h_lam_b);
traces.push(line(h_lam_epoch, h_lam, 'x8', 'y15', '#ff0000', 1.5, leg(LAMI,'legend6',2)));

// ================= (i) =================
const iT = v => (v-(-2.48))/1.12;
traces.push(line(i_closed_x, i_closed_y, 'x9', 'y9', viridis(iT(i_closed_level)), 1));
i_up_level.forEach((lv,k)=>traces.push(line(i_up_x, i_up_y[k], 'x9', 'y9', viridis(iT(lv)), 1)));
i_low_level.forEach((lv,k)=>traces.push(line(i_low_x[k], i_low_y[k], 'x9', 'y9', viridis(iT(lv)), 1)));
i_lab_text.forEach((t,k)=>ann.push({text:t, x:i_lab_x[k], y:i_lab_y[k], xref:'x9', yref:'y9', showarrow:false, bgcolor:'#fff', borderpad:0,
  textangle:i_lab_ang[k], font:{family:FONT, size:8, color:viridis(iT(i_lab_level[k]))}}));
for(let k=1;k<i_px.length;k++){
  ann.push({x:i_px[k], y:i_py[k], ax:i_px[k-1], ay:i_py[k-1], xref:'x9', yref:'y9', axref:'x9', ayref:'y9', text:'', showarrow:true,
    arrowhead:2, arrowsize:1, arrowwidth:2, arrowcolor:'#ff0000', standoff:5, startstandoff:5});
}
traces.push({type:'scatter', mode:'markers', x:i_px, y:i_py, xaxis:'x9', yaxis:'y9', hoverinfo:'skip', showlegend:false,
  marker:{size:10, color:i_pc, colorscale:BLUES, cmin:0, cmax:9, line:{width:1, color:'#000'}, showscale:true,
    colorbar:{x:hx(1132.3), xanchor:'left', y:vy(669.3), yanchor:'top', len:(883.3-669.3)/H, lenmode:'fraction', thickness:11, thicknessmode:'pixels',
      xpad:0, ypad:0, outlinewidth:1, outlinecolor:'#333', tickmode:'array', tickvals:[0,4,8], ticktext:['0','4','8'], ticks:'outside', ticklen:5, tickcolor:'#000',
      tickfont:{family:FONT, size:16, color:'#000'}}}});

// ================= TEXT =================
T('loss', 15, 99, 16, {angle:-90});  T('epoch', 206, 239, 16);  T('max eigenvalue', 382.5, 102.5, 15.5, {angle:-90});
T('loss', 416, 107, 16, {angle:-90}); T('epoch(+114200)', 611.7, 241, 16); T('max eigenvalue', 785, 103, 15.5, {angle:-90});
T('epoch(+114200)', 1192.7, 113, 16, {angle:-90});
T('loss', 15, 433, 16, {angle:-90});  T('epoch', 206.7, 569, 16); T('max eigenvalue', 380, 440, 15.5, {angle:-90});
T('loss', 421.7, 435, 16, {angle:-90}); T('epoch(+260)', 612.3, 569, 16); T('max eigenvalue', 785, 433.3, 15.5, {angle:-90});
T('epoch(+260)', 1190, 443.3, 16, {angle:-90});
T('loss', 35, 773.3, 12.5, {angle:-90}); T('epoch', 220, 910, 14.5); T('max eigenvalue', 397, 775, 14.5, {angle:-90});
T('loss', 428.3, 776.7, 12.5, {angle:-90}); T('epoch', 618.3, 910, 14.5); T('max eigenvalue', 793.3, 771.7, 16, {angle:-90});
T('epoch ( +47)', 1171, 776.7, 16, {angle:-90});
const CAP = 23, SP = '\u00a0\u2002';
T('(a)'+SP+'FNN, full loss', 192, 281, CAP, {family:SERIF});
T('(b)'+SP+'FNN, loss', 603, 281, CAP, {family:SERIF});
T('(c)'+SP+'FNN, trajectory', 1009, 281, CAP, {family:SERIF});
T('(d)'+SP+'CNN, full loss', 191, 602, CAP, {family:SERIF});
T('(e)'+SP+'CNN, loss', 603, 602, CAP, {family:SERIF});
T('(f)'+SP+'CNN, trajectory', 1009, 602, CAP, {family:SERIF});
T('(g)'+SP+'VGG, lr=0.2', 212, 946, CAP, {family:SERIF});
T('(h)'+SP+'VGG, lr=0.3', 609, 946, CAP, {family:SERIF});
T('(i)'+SP+'VGG, trajectory', 997, 946, CAP, {family:SERIF});
layout.annotations = ann;

Plotly.newPlot('chart', traces, layout, {staticPlot:true, displayModeBar:false});
</script></body></html>
